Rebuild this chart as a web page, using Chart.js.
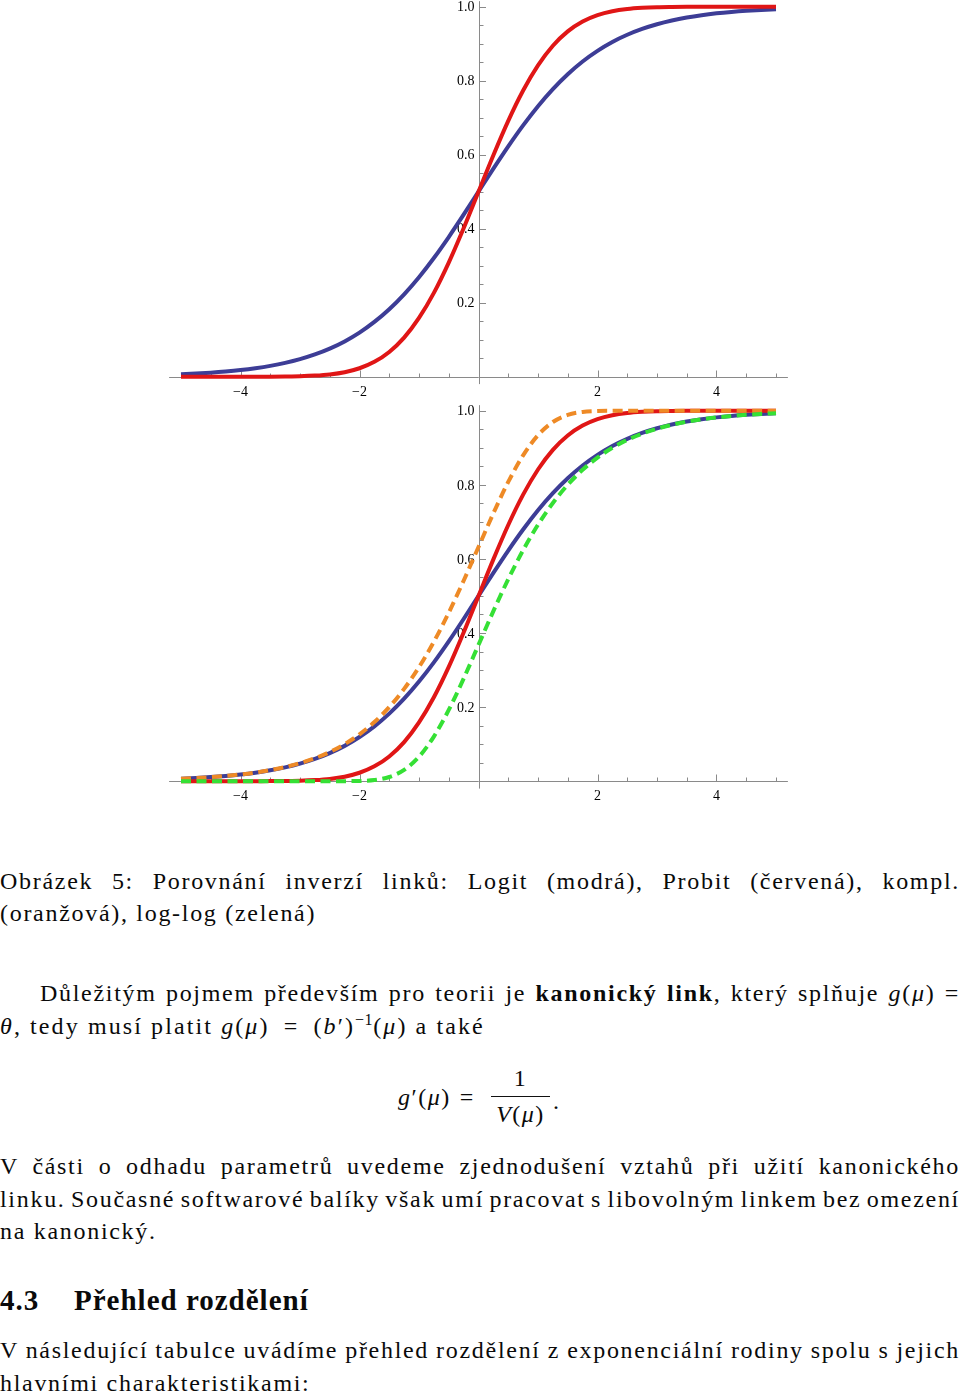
<!DOCTYPE html>
<html>
<head>
<meta charset="utf-8">
<script src="https://cdn.jsdelivr.net/npm/chart.js@4.4.1/dist/chart.umd.min.js"></script>
<style>
html, body { margin: 0; padding: 0; background: #fff; }
body { width: 960px; height: 1396px; position: relative; overflow: hidden;
  font-family: "Liberation Serif", "DejaVu Serif", serif; color: #0a0a0a; }
canvas { position: absolute; left: 0; }
#c1 { top: 0; }
#c2 { top: 400px; }
.ln { position: absolute; left: 0; width: 960px; height: 32px; line-height: 32px;
  font-size: 24px; letter-spacing: 1.7px; white-space: nowrap; }
.ln i, .eq i { font-style: italic; }
.ind { padding-left: 40px; box-sizing: border-box; }
h2.ln { margin: 0; font-size: 29px; font-weight: bold; letter-spacing: 1px; }
.rel { margin: 0 4px; }
.eq { position: absolute; font-size: 24px; line-height: 30px; white-space: nowrap; letter-spacing: 1.5px; }
.frac { width: 59px; text-align: center; }
.bar { position: absolute; left: 491px; top: 1096px; width: 59px; height: 1.3px; background: #111; }
sup { font-size: 16px; line-height: 0; vertical-align: 9px; letter-spacing: 0.5px; }
</style>
</head>
<body>
<canvas id="c1" width="960" height="400"></canvas>
<canvas id="c2" width="960" height="420"></canvas>

<div class="ln j" style="top:865px"><span>Obrázek 5: Porovnání inverzí linků: Logit (modrá), Probit (červená), kompl.</span></div>
<div class="ln" style="top:897px"><span>(oranžová), log-log (zelená)</span></div>

<div class="ln j ind" style="top:977px"><span>Důležitým pojmem především pro teorii je <b>kanonický link</b>, který splňuje <i>g</i>(<i>μ</i>) =</span></div>
<div class="ln" style="top:1010px;letter-spacing:2.1px"><span><i>θ</i>, tedy musí platit <i>g</i>(<i>μ</i>) <span class="rel" style="margin:0 6px">=</span> (<i>b</i>′)<sup>−1</sup>(<i>μ</i>) a také</span></div>

<div class="eq" style="left:398px;top:1082px"><i>g</i>′(<i>μ</i>)<span class="rel" style="margin-left:9px">=</span></div>
<div class="eq frac" style="left:491px;top:1063px">1</div>
<div class="bar"></div>
<div class="eq frac" style="left:491px;top:1099px"><i>V</i>(<i>μ</i>)</div>
<div class="eq" style="left:553px;top:1086px">.</div>

<div class="ln j" style="top:1150px"><span>V části o odhadu parametrů uvedeme zjednodušení vztahů při užití kanonického</span></div>
<div class="ln j" style="top:1183px"><span>linku. Současné softwarové balíky však umí pracovat s libovolným linkem bez omezení</span></div>
<div class="ln" style="top:1215px"><span>na kanonický.</span></div>

<h2 class="ln" style="top:1284px"><span>4.3</span><span style="position:absolute;left:74px">Přehled rozdělení</span></h2>

<div class="ln j" style="top:1334px"><span>V následující tabulce uvádíme přehled rozdělení z exponenciální rodiny spolu s jejich</span></div>
<div class="ln" style="top:1367px"><span>hlavními charakteristikami:</span></div>

<script>
// x sampled every 0.25 from -5 to 5
const xValues = [-5, -4.75, -4.5, -4.25, -4, -3.75, -3.5, -3.25, -3, -2.75, -2.5, -2.25, -2, -1.75, -1.5, -1.25, -1, -0.75, -0.5, -0.25,
  0, 0.25, 0.5, 0.75, 1, 1.25, 1.5, 1.75, 2, 2.25, 2.5, 2.75, 3, 3.25, 3.5, 3.75, 4, 4.25, 4.5, 4.75, 5];

// Logit (blue)
const logitValues = [0.0067, 0.0086, 0.0110, 0.0141, 0.0180, 0.0230, 0.0293, 0.0373, 0.0474, 0.0601, 0.0759, 0.0953, 0.1192, 0.1480, 0.1824, 0.2227, 0.2689, 0.3208, 0.3775, 0.4378,
  0.5000, 0.5622, 0.6225, 0.6792, 0.7311, 0.7773, 0.8176, 0.8520, 0.8808, 0.9047, 0.9241, 0.9399, 0.9526, 0.9627, 0.9707, 0.9770, 0.9820, 0.9859, 0.9890, 0.9914, 0.9933];

// Probit (red)
const probitValues = [0, 0, 0, 0, 0, 0.0001, 0.0002, 0.0006, 0.0013, 0.0030, 0.0062, 0.0122, 0.0228, 0.0401, 0.0668, 0.1056, 0.1587, 0.2266, 0.3085, 0.4013,
  0.5000, 0.5987, 0.6915, 0.7734, 0.8413, 0.8944, 0.9332, 0.9599, 0.9772, 0.9878, 0.9938, 0.9970, 0.9987, 0.9994, 0.9998, 0.9999, 1, 1, 1, 1, 1];

// kompl. log-log (orange, dashed)
const cloglogValues = [0.0067, 0.0086, 0.0110, 0.0142, 0.0181, 0.0232, 0.0297, 0.0380, 0.0486, 0.0619, 0.0788, 0.1000, 0.1266, 0.1595, 0.2000, 0.2491, 0.3078, 0.3765, 0.4548, 0.5411,
  0.6321, 0.7231, 0.8077, 0.8796, 0.9340, 0.9695, 0.9887, 0.9968, 0.9994, 0.9999, 1, 1, 1, 1, 1, 1, 1, 1, 1, 1, 1];

// log-log (green, dashed)
const loglogValues = [0, 0, 0, 0, 0, 0, 0, 0, 0, 0, 0, 0.0001, 0.0006, 0.0032, 0.0113, 0.0305, 0.0660, 0.1204, 0.1923, 0.2769,
  0.3679, 0.4590, 0.5452, 0.6235, 0.6922, 0.7509, 0.8000, 0.8405, 0.8734, 0.9000, 0.9212, 0.9381, 0.9514, 0.9620, 0.9703, 0.9768, 0.9819, 0.9858, 0.9890, 0.9914, 0.9933];

const xTickValues = [-4, -2, 2, 4];
const xTickLabels = ['−4', '−2', '2', '4'];
const yTickValues = [0.2, 0.4, 0.6, 0.8, 1.0];
const yTickLabels = ['0.2', '0.4', '0.6', '0.8', '1.0'];

const pts = vals => xValues.map((x, i) => ({ x, y: vals[i] }));

// Mathematica-like axes crossing at the origin: ticks on one side, labels on the other
const mmaAxes = {
  id: 'mmaAxes',
  beforeDatasetsDraw(chart) {
    const { ctx, scales: { x, y } } = chart;
    const x0 = Math.round(x.getPixelForValue(0)) + 0.5;
    const y0 = Math.round(y.getPixelForValue(0)) + 0.5;
    ctx.save();
    ctx.strokeStyle = '#8a8a8a';
    ctx.lineWidth = 1;
    ctx.beginPath();
    ctx.moveTo(x.getPixelForValue(x.min), y0);
    ctx.lineTo(x.getPixelForValue(x.max), y0);
    ctx.moveTo(x0, y.getPixelForValue(y.max));
    ctx.lineTo(x0, y.getPixelForValue(y.min));
    for (let i = -10; i <= 10; i++) {
      if (i === 0) continue;
      const px = Math.round(x.getPixelForValue(i / 2)) + 0.5;
      const len = (i % 4 === 0) ? 7 : 4;
      ctx.moveTo(px, y0);
      ctx.lineTo(px, y0 - len);
    }
    for (let i = 1; i <= 20; i++) {
      const py = Math.round(y.getPixelForValue(i * 0.05)) + 0.5;
      const len = (i % 4 === 0) ? 6.5 : 4;
      ctx.moveTo(x0, py);
      ctx.lineTo(x0 + len, py);
    }
    ctx.stroke();

    ctx.fillStyle = '#000';
    ctx.font = '14px "Liberation Serif", serif';
    ctx.textBaseline = 'alphabetic';
    ctx.textAlign = 'center';
    xTickValues.forEach((v, i) => ctx.fillText(xTickLabels[i], x.getPixelForValue(v), y0 + 18));
    ctx.textAlign = 'right';
    yTickValues.forEach((v, i) => ctx.fillText(yTickLabels[i], x0 - 5, y.getPixelForValue(v) + 4.7));
    ctx.restore();
  }
};

const line = (vals, color, order, dash) => ({
  data: pts(vals),
  borderColor: color,
  borderWidth: 4,
  borderDash: dash || [],
  borderCapStyle: 'butt',
  borderJoinStyle: 'round',
  pointRadius: 0,
  fill: false,
  cubicInterpolationMode: 'monotone',
  order
});

function makeChart(id, datasets, padTop, padBottom) {
  return new Chart(document.getElementById(id), {
    type: 'line',
    data: { datasets },
    options: {
      responsive: false,
      animation: false,
      events: [],
      layout: { padding: { left: 169.1, right: 172.1, top: padTop, bottom: padBottom } },
      scales: {
        x: { type: 'linear', min: -5.2, max: 5.2, display: false },
        y: { type: 'linear', min: -0.02, max: 1.015, display: false }
      },
      plugins: { legend: { display: false }, tooltip: { enabled: false } }
    },
    plugins: [mmaAxes]
  });
}

makeChart('c1', [
  line(logitValues, '#3d3d96', 4),
  line(probitValues, '#e01616', 3)
], 1.15, 15.9);

makeChart('c2', [
  line(logitValues, '#3d3d96', 4),
  line(probitValues, '#e01616', 3),
  line(cloglogValues, '#ee8a26', 2, [10, 5.5]),
  line(loglogValues, '#35e035', 1, [10, 5.5])
], 5.15, 31.4);

// stretch full lines of the paragraphs to the text width
document.querySelectorAll('.j').forEach(el => {
  const span = el.firstElementChild;
  const pad = parseFloat(getComputedStyle(el).paddingLeft) || 0;
  const target = 960 - pad;
  const w = span.getBoundingClientRect().width;
  const spaces = (span.textContent.match(/ /g) || []).length;
  if (spaces) span.style.wordSpacing = ((target - w) / spaces) + 'px';
});
</script>
</body>
</html>
